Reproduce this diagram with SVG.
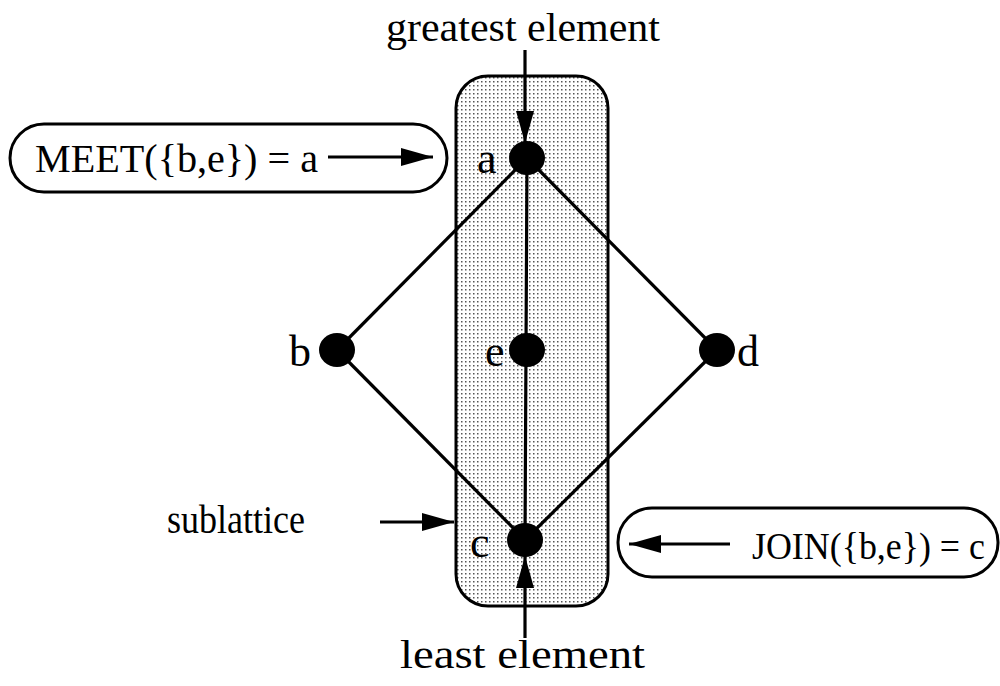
<svg xmlns="http://www.w3.org/2000/svg" width="1000" height="686" viewBox="0 0 1000 686">
<style>
text{font-family:"Liberation Serif","Times New Roman",serif;fill:#000}
.lbl{font-size:44px}
.big{font-size:40px}
.cap{font-size:39px}
.edge{stroke:#000;stroke-width:3.2;fill:none}
.node{fill:#000}
.pill{fill:#fff;stroke:#000;stroke-width:3}
</style>
<defs>
<pattern id="dots" width="4" height="4" patternUnits="userSpaceOnUse">
<rect width="4" height="4" fill="#fff"/>
<rect x="1" y="1" width="1.5" height="1.5" fill="#555"/>
</pattern>
<marker id="ah" viewBox="0 0 32 18" refX="32" refY="9" markerWidth="32" markerHeight="18" markerUnits="userSpaceOnUse" orient="auto">
<path d="M0,0 L32,9 L0,18 Z" fill="#000"/>
</marker>
</defs>
<g id="sublattice">
<rect x="456" y="76" width="152" height="530" rx="32" fill="url(#dots)" stroke="#000" stroke-width="3"/>
</g>
<g id="connectors">
<line class="edge" x1="527" y1="158" x2="337" y2="350"/>
<line class="edge" x1="527" y1="158" x2="717" y2="350"/>
<line class="edge" x1="527" y1="158" x2="525" y2="540"/>
<line class="edge" x1="337" y1="350" x2="525" y2="540"/>
<line class="edge" x1="717" y1="350" x2="525" y2="540"/>
<line class="edge" x1="525" y1="50" x2="525" y2="143" marker-end="url(#ah)"/>
<line class="edge" x1="525" y1="638" x2="525" y2="556" marker-end="url(#ah)"/>
<line class="edge" x1="380" y1="522" x2="454" y2="522" marker-end="url(#ah)"/>
</g>
<g id="node-a"><ellipse class="node" cx="527" cy="158" rx="18" ry="17"/><text class="lbl" x="477" y="173">a</text></g>
<g id="node-b"><ellipse class="node" cx="337" cy="350" rx="18" ry="17"/><text class="lbl" x="289" y="366">b</text></g>
<g id="node-e"><ellipse class="node" cx="527" cy="350" rx="18" ry="17"/><text class="lbl" x="485" y="366">e</text></g>
<g id="node-d"><ellipse class="node" cx="717" cy="350" rx="18" ry="17"/><text class="lbl" x="737" y="366">d</text></g>
<g id="node-c"><ellipse class="node" cx="525" cy="540" rx="18" ry="17"/><text class="lbl" x="470" y="557">c</text></g>
<g id="greatest-label"><text class="cap" x="386" y="41" textLength="274" lengthAdjust="spacingAndGlyphs">greatest element</text></g>
<g id="least-label"><text class="cap" x="400" y="668" textLength="245" lengthAdjust="spacingAndGlyphs">least element</text></g>
<g id="sublattice-label"><text class="cap" x="167" y="533" textLength="138" lengthAdjust="spacingAndGlyphs">sublattice</text></g>
<g id="meet">
<rect class="pill" x="10" y="124" width="437" height="68" rx="34"/>
<text class="big" x="35" y="172" textLength="283" lengthAdjust="spacingAndGlyphs">MEET({b,e}) = a</text>
<line class="edge" x1="328" y1="157" x2="433" y2="157" marker-end="url(#ah)"/>
</g>
<g id="join">
<rect class="pill" x="618" y="508" width="380" height="69" rx="34"/>
<line class="edge" x1="730" y1="544" x2="629" y2="544" marker-end="url(#ah)"/>
<text class="big" x="752" y="559" textLength="233" lengthAdjust="spacingAndGlyphs" style="font-size:38px">JOIN({b,e}) = c</text>
</g>
</svg>
